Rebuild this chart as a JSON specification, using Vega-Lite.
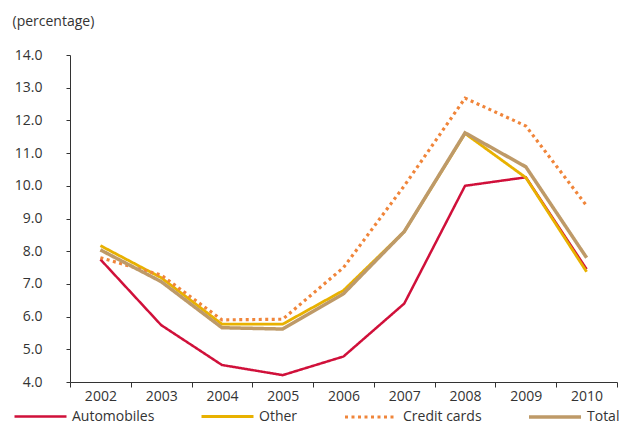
{
  "$schema": "https://vega.github.io/schema/vega-lite/v6.json",
  "autosize": "none",
  "width": 547,
  "height": 327,
  "padding": {"left": 70, "top": 55, "right": 3, "bottom": 42},
  "background": "white",
  "config": {
    "view": {"stroke": null},
    "font": "Open Sans",
    "axis": {"grid": false, "domainColor": "#333333", "tickColor": "#333333", "labelColor": "#333333", "titleColor": "#333333", "labelFont": "Open Sans", "labelFontSize": 14, "titleFont": "Open Sans", "titleFontSize": 14, "titleFontWeight": "normal", "domainWidth": 1, "tickWidth": 1},
    "legend": {"labelFont": "Open Sans", "labelFontSize": 14, "labelColor": "#333333", "padding": 0}
  },
  "data": {
    "values": [
      {"year": "2002", "series": "Automobiles", "value": 7.75},
      {"year": "2003", "series": "Automobiles", "value": 5.74},
      {"year": "2004", "series": "Automobiles", "value": 4.52},
      {"year": "2005", "series": "Automobiles", "value": 4.21},
      {"year": "2006", "series": "Automobiles", "value": 4.78},
      {"year": "2007", "series": "Automobiles", "value": 6.4},
      {"year": "2008", "series": "Automobiles", "value": 10.0},
      {"year": "2009", "series": "Automobiles", "value": 10.26},
      {"year": "2010", "series": "Automobiles", "value": 7.45},
      {"year": "2002", "series": "Other", "value": 8.17},
      {"year": "2003", "series": "Other", "value": 7.19},
      {"year": "2004", "series": "Other", "value": 5.77},
      {"year": "2005", "series": "Other", "value": 5.77},
      {"year": "2006", "series": "Other", "value": 6.8},
      {"year": "2007", "series": "Other", "value": 8.6},
      {"year": "2008", "series": "Other", "value": 11.6},
      {"year": "2009", "series": "Other", "value": 10.25},
      {"year": "2010", "series": "Other", "value": 7.37},
      {"year": "2002", "series": "Credit cards", "value": 7.8},
      {"year": "2003", "series": "Credit cards", "value": 7.27},
      {"year": "2004", "series": "Credit cards", "value": 5.9},
      {"year": "2005", "series": "Credit cards", "value": 5.92},
      {"year": "2006", "series": "Credit cards", "value": 7.5},
      {"year": "2007", "series": "Credit cards", "value": 10.0},
      {"year": "2008", "series": "Credit cards", "value": 12.68},
      {"year": "2009", "series": "Credit cards", "value": 11.83},
      {"year": "2010", "series": "Credit cards", "value": 9.39},
      {"year": "2002", "series": "Total", "value": 8.04},
      {"year": "2003", "series": "Total", "value": 7.07},
      {"year": "2004", "series": "Total", "value": 5.66},
      {"year": "2005", "series": "Total", "value": 5.62},
      {"year": "2006", "series": "Total", "value": 6.7},
      {"year": "2007", "series": "Total", "value": 8.6},
      {"year": "2008", "series": "Total", "value": 11.62},
      {"year": "2009", "series": "Total", "value": 10.58},
      {"year": "2010", "series": "Total", "value": 7.8}
    ]
  },
  "mark": {"type": "line", "strokeCap": "butt", "strokeJoin": "miter"},
  "encoding": {
    "x": {
      "field": "year", "type": "ordinal",
      "scale": {"type": "band", "paddingInner": 0, "paddingOuter": 0},
      "axis": {"title": null, "labelAngle": 0, "tickBand": "extent", "tickSize": 5, "labelPadding": 2, "domain": true}
    },
    "y": {
      "field": "value", "type": "quantitative",
      "scale": {"domain": [4, 14], "nice": false, "zero": false},
      "axis": {"values": [4,5,6,7,8,9,10,11,12,13,14], "format": ".1f", "tickSize": 4, "labelPadding": 24, "title": "(percentage)", "titleAngle": 0, "titleAlign": "left", "titleBaseline": "alphabetic", "titleX": -58, "titleY": -30}
    },
    "color": {
      "field": "series", "type": "nominal",
      "scale": {"domain": ["Automobiles", "Other", "Credit cards", "Total"], "range": ["#D0103A", "#E8B100", "#F0853A", "#BE9A68"]},
      "legend": {"title": null, "orient": "none", "legendX": -57, "legendY": 334, "direction": "horizontal", "symbolType": "stroke", "symbolSize": 2704, "symbolStrokeWidth": 4, "labelOffset": 4, "columnPadding": 40, "gridAlign": "none"}
    },
    "strokeDash": {
      "field": "series", "type": "nominal",
      "scale": {"domain": ["Automobiles", "Other", "Credit cards", "Total"], "range": [[1, 0], [1, 0], [3, 3.5], [1, 0]]},
      "legend": {"title": null, "orient": "none", "legendX": -57, "legendY": 334, "direction": "horizontal", "symbolType": "stroke", "symbolSize": 2704, "symbolStrokeWidth": 4, "labelOffset": 4, "columnPadding": 40, "gridAlign": "none"}
    },
    "strokeWidth": {
      "field": "series", "type": "nominal",
      "scale": {"domain": ["Automobiles", "Other", "Credit cards", "Total"], "range": [2.5, 3.5, 3.2, 3.8]},
      "legend": null
    }
  }
}
